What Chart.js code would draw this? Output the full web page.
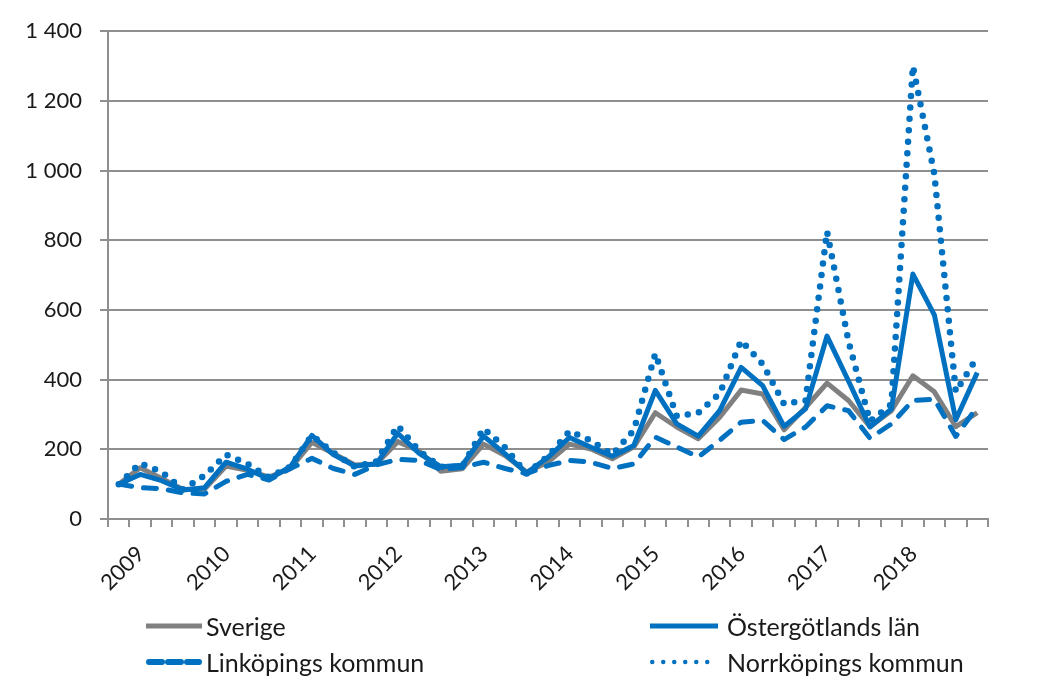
<!DOCTYPE html>
<html><head><meta charset="utf-8">
<script src="https://cdn.jsdelivr.net/npm/chart.js@4/dist/chart.umd.min.js"></script>
<style>
html,body{margin:0;padding:0;background:#fff;}
#wrap{position:relative;width:1056px;height:685px;overflow:hidden;}
#c{position:absolute;left:0;top:0;}
.leg{position:absolute;font-family:Lato,"Open Sans",sans-serif;font-size:25px;color:#1a1a1a;white-space:nowrap;line-height:30px;height:30px;}
.leg svg{position:absolute;top:0;}
.leg span{position:absolute;top:0;}
</style></head><body>
<div id="wrap"><canvas id="c" width="1056" height="685"></canvas><div id="legend"></div></div>
<script>
const categories = ['2009 K1','2009 K2','2009 K3','2009 K4','2010 K1','2010 K2','2010 K3','2010 K4','2011 K1','2011 K2','2011 K3','2011 K4','2012 K1','2012 K2','2012 K3','2012 K4','2013 K1','2013 K2','2013 K3','2013 K4','2014 K1','2014 K2','2014 K3','2014 K4','2015 K1','2015 K2','2015 K3','2015 K4','2016 K1','2016 K2','2016 K3','2016 K4','2017 K1','2017 K2','2017 K3','2017 K4','2018 K1','2018 K2','2018 K3','2018 K4','2019 K1'];
const tickLabels = ['2009','','','','2010','','','','2011','','','','2012','','','','2013','','','','2014','','','','2015','','','','2016','','','','2017','','','','2018','','','',''];
const yTicks = [0,200,400,600,800,1000,1200,1400];

const sverige      = [100,147,116,85,86,152,140,120,145,220,188,155,158,222,195,137,144,215,182,135,163,215,201,173,207,305,264,230,292,370,359,256,320,390,340,265,311,411,365,265,305];
const ostergotland = [100,128,110,83,90,163,143,115,150,240,185,152,158,246,188,150,154,238,187,132,177,234,206,180,211,369,273,238,311,435,383,266,316,525,396,264,316,703,586,285,420];
const linkoping    = [100,90,87,75,72,108,128,112,145,174,145,128,155,171,168,142,148,163,145,130,153,168,163,145,158,235,207,178,226,278,283,228,264,325,311,232,273,340,344,237,322];
const norrkoping   = [100,160,135,85,125,185,158,120,150,240,190,150,165,268,195,150,150,260,205,130,180,252,225,185,255,475,295,305,360,512,445,330,340,825,510,280,330,1300,990,365,465];

const seriesNames = ['Sverige','Östergötlands län','Linköpings kommun','Norrköpings kommun'];
const GRAY = '#808080', BLUE = '#0070C0', GRID = '#8f8f8f', TXT = '#1a1a1a';
const FONT = 'Lato';

function fmt(v){ return v >= 1000 ? Math.floor(v/1000) + ' ' + String(v%1000).padStart(3,'0') : String(v); }

const styles = [
  {color:GRAY, width:5, dash:[], cap:'butt', order:4},
  {color:BLUE, width:5, dash:[], cap:'butt', order:3},
  {color:BLUE, width:5, dash:[13,12], cap:'round', order:2},
  {color:BLUE, width:6.5, dash:[0,11.5], cap:'round', order:1}
];
const values = [sverige, ostergotland, linkoping, norrkoping];

new Chart(document.getElementById('c'), {
  type:'line',
  data:{
    labels:categories,
    datasets: values.map((d,k)=>({
      label:seriesNames[k], data:d, borderColor:styles[k].color, backgroundColor:styles[k].color,
      borderWidth:styles[k].width, borderDash:styles[k].dash, borderCapStyle:styles[k].cap,
      borderJoinStyle:'round', pointRadius:0, tension:0, fill:false, order:styles[k].order
    }))
  },
  options:{
    responsive:false, animation:false, devicePixelRatio:1,
    layout:{padding:{left:0,right:68,top:28,bottom:86}},
    plugins:{legend:{display:false}, tooltip:{enabled:false}},
    scales:{
      x:{
        type:'category', offset:true,
        grid:{offset:true, drawOnChartArea:false, drawTicks:true, tickLength:8, color:GRID, lineWidth:2},
        border:{display:true, color:GRID, width:2},
        ticks:{autoSkip:false, minRotation:45, maxRotation:45, padding:14, labelOffset:22,
               font:{family:FONT, size:22}, color:TXT, callback:(v,i)=>tickLabels[i]},
        afterFit:(s)=>{ s.height = 80; }
      },
      y:{
        min:0, max:1400,
        afterBuildTicks:(s)=>{ s.ticks = yTicks.map(v=>({value:v})); },
        ticks:{padding:18, font:{family:FONT, size:22}, color:TXT, callback:(v)=>fmt(v)},
        grid:{color:GRID, lineWidth:2, tickLength:8, drawTicks:true},
        border:{display:true, color:GRID, width:2},
        afterFit:(s)=>{ s.width = 108; }
      }
    }
  }
});

// HTML legend
const legPos = [
  {x:146, y:611, len:56, tx:60},
  {x:650, y:611, len:68, tx:77},
  {x:146, y:647, len:56, tx:60},
  {x:650, y:647, len:68, tx:77}
];
const legDash = [[], [], [13,6], [0,11]];
const legW = [5,5,6,4.5];
const legend = document.getElementById('legend');
seriesNames.forEach((name,k)=>{
  const p = legPos[k];
  const d = document.createElement('div');
  d.className = 'leg';
  d.style.left = p.x + 'px'; d.style.top = p.y + 'px';
  const cap = k >= 2 ? 'round' : 'butt';
  const dash = legDash[k].length ? `stroke-dasharray="${legDash[k].join(' ')}"` : '';
  const off = k >= 2 ? legW[k]/2 : 0;
  d.innerHTML = `<svg width="${p.len+4}" height="30" style="left:0"><line x1="${off}" y1="15" x2="${p.len-off}" y2="15" stroke="${styles[k].color}" stroke-width="${legW[k]}" stroke-linecap="${cap}" ${dash}/></svg><span style="left:${p.tx}px">${name}</span>`;
  legend.appendChild(d);
});
</script>
</body></html>
